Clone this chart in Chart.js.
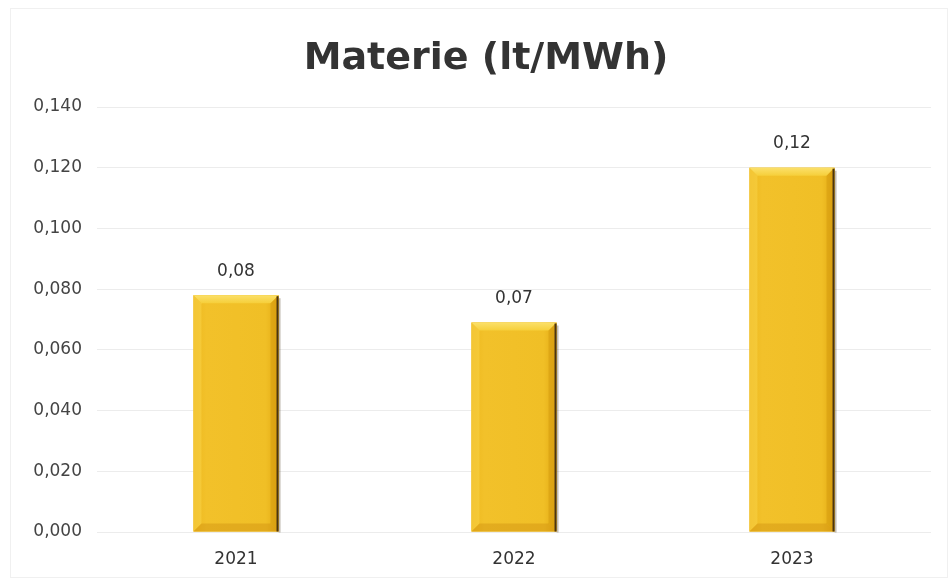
<!DOCTYPE html>
<html>
<head>
<meta charset="utf-8">
<script src="https://cdn.jsdelivr.net/npm/chart.js@4/dist/chart.umd.min.js"></script>
<style>
  html, body { margin: 0; padding: 0; background: #fff; }
  #wrap { width: 949px; height: 583px; position: relative; }
</style>
</head>
<body>
<div id="wrap"><canvas id="c"></canvas></div>
<script>
// Categories and values
const years = ['2021', '2022', '2023'];
const materie = [0.078, 0.069, 0.12];
const yTicks = [0, 0.02, 0.04, 0.06, 0.08, 0.1, 0.12, 0.14];
const chartTitle = 'Materie (lt/MWh)';

const FONT = '"DejaVu Sans", Verdana, sans-serif';

function fmt(v, d) {
  return v.toFixed(d).replace('.', ',');
}

// Bevelled gold bars, drawn over the library's bar elements
const bevelBars = {
  id: 'bevelBars',
  afterDatasetsDraw(chart) {
    const ctx = chart.ctx;
    const meta = chart.getDatasetMeta(0);
    meta.data.forEach((bar) => {
      const p = bar.getProps(['x', 'y', 'base', 'width'], true);
      const l = p.x - p.width / 2, r = p.x + p.width / 2;
      const t = p.y, b = p.base;
      const bv = 8;
      ctx.save();
      // shadow on the right side
      ctx.fillStyle = 'rgba(60,40,10,0.3)';
      ctx.fillRect(r, t + 3, 2, b - t - 2);
      // body
      const g = ctx.createLinearGradient(l, 0, r, 0);
      g.addColorStop(0, '#EDB81E');
      g.addColorStop(0.15, '#F2C12A');
      g.addColorStop(0.85, '#F0BF26');
      g.addColorStop(1, '#E2A812');
      ctx.fillStyle = g;
      ctx.fillRect(l, t, p.width, b - t);
      // top bevel
      const gt = ctx.createLinearGradient(0, t, 0, t + bv);
      gt.addColorStop(0, '#FBE06A');
      gt.addColorStop(1, '#F6CF3A');
      ctx.fillStyle = gt;
      ctx.beginPath();
      ctx.moveTo(l, t); ctx.lineTo(r, t);
      ctx.lineTo(r - bv, t + bv); ctx.lineTo(l + bv, t + bv);
      ctx.closePath(); ctx.fill();
      // left bevel
      ctx.fillStyle = 'rgba(250,215,80,0.45)';
      ctx.beginPath();
      ctx.moveTo(l, t); ctx.lineTo(l + bv, t + bv);
      ctx.lineTo(l + bv, b - bv); ctx.lineTo(l, b);
      ctx.closePath(); ctx.fill();
      // right bevel
      ctx.fillStyle = 'rgba(200,140,10,0.35)';
      ctx.beginPath();
      ctx.moveTo(r, t); ctx.lineTo(r - bv, t + bv);
      ctx.lineTo(r - bv, b - bv); ctx.lineTo(r, b);
      ctx.closePath(); ctx.fill();
      // bottom bevel
      ctx.fillStyle = 'rgba(205,140,15,0.4)';
      ctx.beginPath();
      ctx.moveTo(l, b); ctx.lineTo(l + bv, b - bv);
      ctx.lineTo(r - bv, b - bv); ctx.lineTo(r, b);
      ctx.closePath(); ctx.fill();
      // dark right edge
      ctx.fillStyle = '#4A3412';
      ctx.fillRect(r - 2, t + 1, 2, b - t - 1);
      ctx.restore();
    });
  }
};

// Value labels above each bar
const valueLabels = {
  id: 'valueLabels',
  afterDatasetsDraw(chart) {
    const ctx = chart.ctx;
    const ds = chart.data.datasets[0];
    chart.getDatasetMeta(0).data.forEach((bar, i) => {
      ctx.save();
      ctx.font = '17px ' + FONT;
      ctx.fillStyle = '#333';
      ctx.textAlign = 'center';
      ctx.textBaseline = 'middle';
      ctx.fillText(fmt(ds.data[i], 2), bar.x, bar.y - 24);
      ctx.restore();
    });
  }
};

// Faint outer frame and the heading
const frameAndTitle = {
  id: 'frameAndTitle',
  beforeDraw(chart) {
    const ctx = chart.ctx;
    ctx.save();
    ctx.strokeStyle = '#f0f0f0';
    ctx.lineWidth = 1;
    ctx.strokeRect(10.5, 8.5, chart.width - 12, chart.height - 14);
    ctx.font = 'bold 38px ' + FONT;
    ctx.fillStyle = '#333';
    ctx.textAlign = 'center';
    ctx.textBaseline = 'middle';
    ctx.fillText(chartTitle, 486, 59);
    ctx.restore();
  }
};

new Chart(document.getElementById('c'), {
  type: 'bar',
  data: {
    labels: years,
    datasets: [{
      label: chartTitle,
      data: materie,
      backgroundColor: '#F2C226',
      borderWidth: 0,
      categoryPercentage: 1,
      barPercentage: 0.306
    }]
  },
  options: {
    responsive: true,
    maintainAspectRatio: false,
    animation: false,
    devicePixelRatio: 1,
    layout: { padding: { left: 0, right: 18, top: 107, bottom: 8 } },
    plugins: {
      legend: { display: false },
      tooltip: { enabled: false },
      title: { display: false }
    },
    scales: {
      x: {
        afterFit(scale) { scale.height = 43; },
        grid: { display: false, drawTicks: false },
        border: { display: false },
        ticks: {
          color: '#333',
          font: { family: FONT, size: 17 },
          padding: 17
        }
      },
      y: {
        min: 0,
        max: 0.14,
        afterFit(scale) { scale.width = 97; },
        afterBuildTicks(scale) { scale.ticks = yTicks.map(v => ({ value: v })); },
        grid: { color: '#ececec', lineWidth: 1, drawTicks: false },
        border: { display: false },
        ticks: {
          color: '#444',
          font: { family: FONT, size: 17 },
          padding: 15,
          callback: (v) => fmt(v, 3)
        }
      }
    }
  },
  plugins: [frameAndTitle, bevelBars, valueLabels]
});
</script>
</body>
</html>
